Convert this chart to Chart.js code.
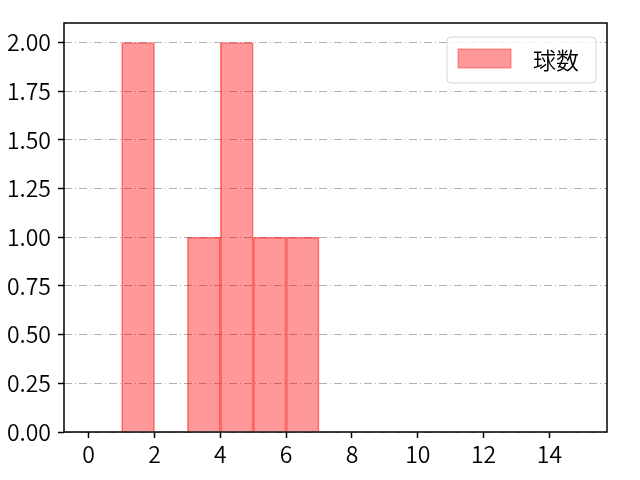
<!DOCTYPE html>
<html>
<head>
<meta charset="utf-8">
<script src="https://cdn.jsdelivr.net/npm/chart.js@4/dist/chart.umd.min.js"></script>
<style>
  html, body { margin: 0; padding: 0; background: #fff; }
  #wrap { width: 640px; height: 480px; }
</style>
</head>
<body>
<div id="wrap"><canvas id="myChart" width="640" height="480"></canvas></div>
<script>
// histogram bins (width 1) and counts
const binCenters = [0.5, 1.5, 2.5, 3.5, 4.5, 5.5, 6.5, 7.5, 8.5, 9.5, 10.5, 11.5, 12.5, 13.5, 14.5];
const counts = [0, 2, 0, 1, 2, 1, 1, 0, 0, 0, 0, 0, 0, 0, 0];
const seriesLabel = '球数';
const xTicks = [0, 2, 4, 6, 8, 10, 12, 14];
const yTicks = [0, 0.25, 0.5, 0.75, 1, 1.25, 1.5, 1.75, 2];

const tickFont = { family: "'Noto Sans CJK JP', sans-serif", size: 23, weight: 350 };

const framePlugin = {
  id: 'frame',
  afterDraw(chart) {
    const { ctx, chartArea: a } = chart;
    ctx.save();
    ctx.strokeStyle = '#000';
    ctx.lineWidth = 1.5;
    ctx.strokeRect(a.left, a.top, a.right - a.left, a.bottom - a.top);

    // legend box inside upper right
    const w = 149, h = 46;
    const x = a.right - 11 - w, y = a.top + 14;
    ctx.lineWidth = 1;
    ctx.strokeStyle = '#d6d6d6';
    ctx.fillStyle = 'rgba(255,255,255,0.8)';
    ctx.beginPath();
    ctx.roundRect(x, y, w, h, 4);
    ctx.fill();
    ctx.stroke();
    ctx.fillStyle = 'rgba(255,0,0,0.4)';
    ctx.strokeStyle = 'rgba(255,0,0,0.4)';
    ctx.fillRect(x + 11, y + 12, 53, 19);
    ctx.strokeRect(x + 11, y + 12, 53, 19);
    ctx.fillStyle = '#000';
    ctx.font = "350 23px 'Noto Sans CJK JP'";
    ctx.textBaseline = 'middle';
    ctx.fillText(chart.data.datasets[0].label, x + 86, y + h / 2);
    ctx.restore();
  }
};

const ctx = document.getElementById('myChart').getContext('2d');
const myChart = new Chart(ctx, {
  type: 'bar',
  data: {
    datasets: [{
      label: seriesLabel,
      data: binCenters.map((c, i) => ({ x: c, y: counts[i] })),
      backgroundColor: 'rgba(255, 0, 0, 0.4)',
      borderColor: 'rgba(255, 0, 0, 0.5)',
      borderWidth: 1,
      barPercentage: 1,
      categoryPercentage: 1
    }]
  },
  options: {
    responsive: false,
    animation: false,
    layout: { padding: { top: 23, right: 33, left: 0, bottom: 0 } },
    plugins: {
      legend: { display: false },
      tooltip: { enabled: false }
    },
    scales: {
      x: {
        type: 'linear',
        offset: false,
        min: -0.75,
        max: 15.75,
        afterBuildTicks: s => { s.ticks = xTicks.map(v => ({ value: v })); },
        afterFit: s => { s.height = 48; },
        ticks: { color: '#000', font: tickFont, padding: 2, autoSkip: false, maxRotation: 0 },
        grid: { offset: false, drawOnChartArea: false, drawTicks: true, tickLength: 6, tickColor: '#000', tickWidth: 1.5 },
        border: { display: false }
      },
      y: {
        min: 0,
        max: 2.1,
        afterBuildTicks: s => { s.ticks = yTicks.map(v => ({ value: v })); },
        afterFit: s => { s.width = 64; },
        ticks: { color: '#000', font: tickFont, padding: 7, callback: v => v.toFixed(2) },
        grid: { color: '#b0b0b0', lineWidth: 1, tickLength: 6, tickColor: '#000', tickWidth: 1.5, tickBorderDash: [] },
        border: { display: false, dash: [8, 3, 1, 3] }
      }
    }
  },
  plugins: [framePlugin]
});
</script>
</body>
</html>
